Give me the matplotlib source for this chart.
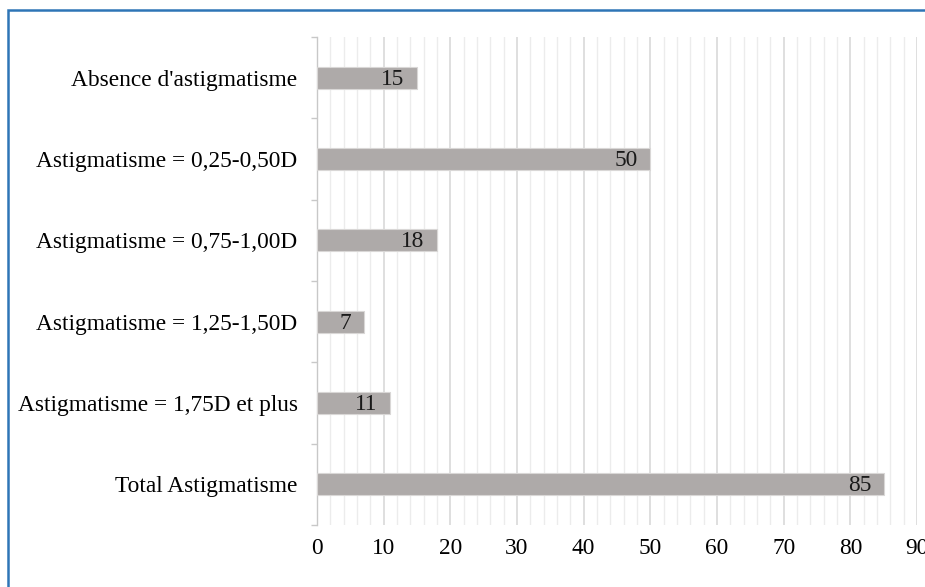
import matplotlib
matplotlib.use("Agg")
import matplotlib.pyplot as plt
from matplotlib.patches import Rectangle
from matplotlib.ticker import MultipleLocator, FixedLocator

categories = [
    "Absence d'astigmatisme",
    "Astigmatisme = 0,25-0,50D",
    "Astigmatisme = 0,75-1,00D",
    "Astigmatisme = 1,25-1,50D",
    "Astigmatisme = 1,75D et plus",
    "Total Astigmatisme",
]
values = [15, 50, 18, 7, 11, 85]
x_ticks = [0, 10, 20, 30, 40, 50, 60, 70, 80, 90]

plt.rcParams["font.family"] = ["Liberation Serif", "DejaVu Serif"]
FS = 16.8

fig = plt.figure(figsize=(9.25, 5.87), dpi=100)
ax = fig.add_axes([317 / 925, 1 - 525 / 587, 600 / 925, 488 / 587])

pos = list(range(len(categories)))
ax.barh(pos, values, height=0.27, color="#aeaaa9", edgecolor="#d9d7d6",
        linewidth=0.8, zorder=3)

for p, v in zip(pos, values):
    ax.annotate(str(v), xy=(v, p), xytext=(-9, -1), textcoords="offset points",
                ha="right", va="center", fontsize=FS, color="#1a1a1a", zorder=4)

ax.set_xlim(0, 90)
ax.set_ylim(len(categories) - 0.5, -0.5)
ax.xaxis.set_major_locator(FixedLocator(x_ticks))
ax.xaxis.set_minor_locator(MultipleLocator(2))
ax.grid(axis="x", which="major", color="#d9d9d9", linewidth=1.2, zorder=0)
ax.grid(axis="x", which="minor", color="#ececec", linewidth=1.0, zorder=0)
ax.tick_params(axis="x", which="both", length=0, labelsize=FS, pad=9)

ax.set_yticks(pos)
ax.set_yticklabels(categories, fontsize=FS)
ax.yaxis.set_minor_locator(FixedLocator([i - 0.5 for i in range(len(categories) + 1)]))
ax.tick_params(axis="y", which="major", length=0, pad=14)
ax.tick_params(axis="y", which="minor", length=4, color="#c8c8c8", width=1)

for s in ["top", "right", "bottom"]:
    ax.spines[s].set_visible(False)
ax.spines["left"].set_color("#c8c8c8")
ax.spines["left"].set_linewidth(1)

# outer frame around the chart
fig.patches.append(Rectangle((8 / 925, -0.1), 1.2, 1 - 10 / 587 + 0.1,
                             transform=fig.transFigure, fill=False,
                             edgecolor="#2e75b6", linewidth=1.8))

fig.savefig("out.png", dpi=100)
